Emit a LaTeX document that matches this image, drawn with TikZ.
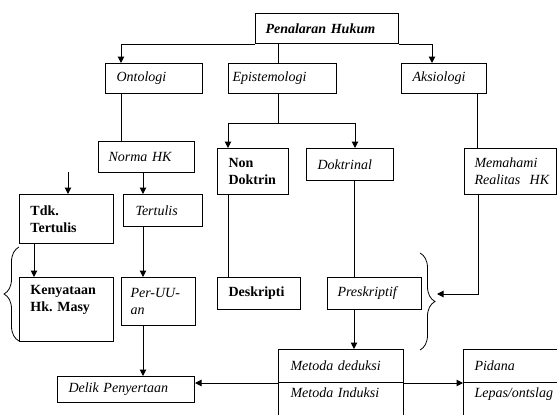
\documentclass[tikz,border=0pt]{standalone}
\usepackage{fontspec}
\setmainfont{Liberation Serif}
\usetikzlibrary{arrows.meta,decorations.pathreplacing}
\begin{document}
\begin{tikzpicture}[x=1pt,y=-1pt,
  line width=1pt,
  box/.style={draw, anchor=north west, align=left, inner ysep=0pt, font=\fontsize{14}{17}\selectfont},
  it/.style={font=\fontsize{14}{17}\selectfont\itshape},
  bf/.style={font=\fontsize{14}{17}\selectfont\bfseries},
  arr/.style={-{Triangle[length=6.5pt,width=6.5pt]}},
  brc/.style={decorate, decoration={brace, amplitude=15pt}}]
\useasboundingbox (0,0) rectangle (557,415);
\clip (0,0) rectangle (557,415);
% boxes
\node[box,inner xsep=10pt,text width=123pt,minimum height=30pt] (pen) at (255,13) {\textbf{\textit{Penalaran Hukum}}};
\node[box,it,inner xsep=11pt,text width=75pt,minimum height=30pt] (ont) at (105,63) {Ontologi};
\node[box,it,inner xsep=4pt,text width=100pt,minimum height=30pt] (epi) at (228,63) {Epistemologi};
\node[box,it,inner xsep=11pt,text width=63pt,minimum height=30pt] (aks) at (401,63) {Aksiologi};
\node[box,it,inner xsep=10pt,text width=76pt,minimum height=31pt] (norma) at (98,141) {Norma HK};
\node[box,bf,inner xsep=11pt,text width=49pt,minimum height=46pt] (ndk) at (217,148) {Non\\Doktrin};
\node[box,it,inner xsep=11pt,text width=65pt,minimum height=32pt] (dok) at (306,148) {Doktrinal};
\node[box,it,inner xsep=10pt,text width=72pt,minimum height=46pt] (mem) at (464,148) {Memahami\\\mbox{Realitas~~HK}};
\node[box,bf,inner xsep=11pt,text width=72pt,minimum height=49pt] (tdk) at (19,194) {Tdk.\\Tertulis};
\node[box,it,inner xsep=12pt,text width=55pt,minimum height=32pt] (ter) at (123,194) {Tertulis};
\node[box,bf,inner xsep=11pt,text width=72pt,minimum height=64pt] (ken) at (19,277) {Kenyataan\\Hk.\ Masy\\\strut};
\node[box,it,inner xsep=9pt,text width=56pt,minimum height=48pt] (puu) at (121,277) {Per-UU-\\an};
\node[box,bf,inner xsep=11pt,text width=61pt,minimum height=32pt] (des) at (217,277) {Deskripti};
\node[box,it,inner xsep=10pt,text width=74pt,minimum height=32pt] (pre) at (327,277) {Preskriptif};
\node[box,it,inner xsep=11pt,text width=115pt,minimum height=26pt] (delik) at (57,376) {Delik Penyertaan};
\node[box,it,inner xsep=12pt,text width=101pt,minimum height=33pt] (md) at (278,349) {Metoda deduksi};
\node[box,it,inner xsep=12pt,text width=101pt,minimum height=43pt] (mi) at (278,382) {Metoda Induksi\\\strut};
\node[box,it,inner xsep=11pt,text width=88pt,minimum height=33pt] (pid) at (463,349) {Pidana};
\node[box,it,inner xsep=11pt,text width=88pt,minimum height=43pt] (lp) at (463,382) {Lepas/ontslag\\\strut};
% connectors
\draw[arr] (pen.south west) -| ([xshift=16pt]ont.north west);
\draw[arr] (pen.south east) -| ([xshift=31pt]aks.north west);
\draw ([xshift=50pt]epi.north west) -- ([xshift=50pt]epi.north west |- pen.south);
\draw ([xshift=16pt]ont.south west) -- ([xshift=23pt]norma.north west);
\coordinate (esplit) at (278,123);
\draw ([xshift=50pt]epi.south west) -- (esplit);
\draw[arr] (esplit) -| ([xshift=11pt]ndk.north west);
\draw[arr] (esplit) -| ([xshift=49pt]dok.north west);
\draw[arr] ([xshift=45pt]norma.south west) -- ([xshift=20pt]ter.north west);
\coordinate (tdkin) at (68,172);
\draw[arr] (tdkin) -- (tdkin |- tdk.north);
\draw[arr] ([xshift=15pt]tdk.south west) -- ([xshift=15pt]ken.north west);
\draw[arr] ([xshift=20pt]ter.south west) -- ([xshift=22pt]puu.north west);
\draw[arr] ([xshift=22pt]puu.south west) -- ([xshift=86pt]delik.north west);
\draw ([xshift=11pt]ndk.south west) -- ([xshift=11pt]des.north west);
\draw ([xshift=48pt]dok.south west) -- ([xshift=27pt]pre.north west);
\draw[arr] ([xshift=27pt]pre.south west) -- ([xshift=76pt]md.north west);
\draw ([xshift=-10pt]aks.south east) -- ([xshift=13pt]mem.north west);
\coordinate (rbarrow) at (437,294);
\draw[arr] ([xshift=14pt]mem.south west) |- (rbarrow);
\draw[arr] (md.south west) -- (md.south west -| delik.east);
\draw[arr] (md.south east) -- (md.south east -| pid.west);
% braces
\draw[brc,line width=0.8pt] (19,341) -- (19,247);
\draw[brc,line width=0.8pt] (420,253) -- (420,350);
\end{tikzpicture}
\end{document}
